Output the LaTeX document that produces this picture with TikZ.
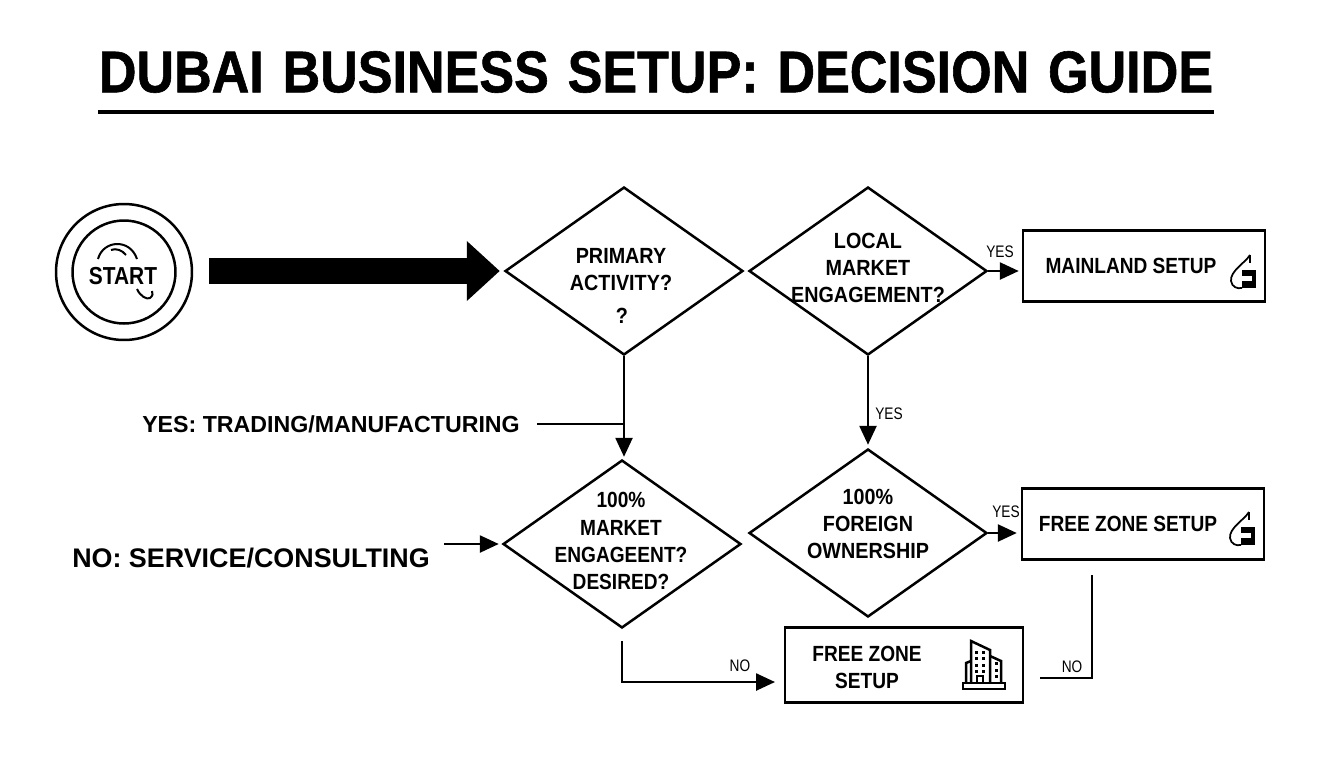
\documentclass[tikz,border=0pt]{standalone}
\usepackage{fontspec}
\setmainfont{Liberation Sans}
\newfontfamily\titlefont[WordSpace=1.3,BoldFeatures={FakeStretch=0.885,FakeBold=1}]{Liberation Sans}
\usetikzlibrary{arrows.meta,shapes.geometric}
\tikzset{
  every node/.style={font=\bfseries},
  decision/.style={shape=diamond, draw, line width=0.05cm, inner sep=0pt, minimum width=4.76cm, minimum height=3.36cm},
  outcome/.style={shape=rectangle, draw, line width=0.05cm, inner sep=0pt, minimum width=4.84cm, minimum height=1.42cm},
  boxtext/.style={font=\fontsize{12.5}{15.4}\selectfont\bfseries\addfontfeature{FakeStretch=0.87}, align=center, inner sep=0pt},
  qtext/.style={font=\fontsize{12.5}{15.4}\selectfont\bfseries\addfontfeature{FakeStretch=0.9}, align=center, inner sep=0pt},
  small/.style={font=\fontsize{9.5}{11}\selectfont\addfontfeature{FakeStretch=0.82}, inner sep=0pt},
  wire/.style={line width=0.05cm},
  flow/.style={wire, -{Triangle[length=0.38cm,width=0.34cm]}},
  pics/droplet/.style={code={
    \draw[line width=0.035cm] (9,-30) .. controls (4,-22) and (-11,-14) .. (-10,-4) .. controls (-9,2) and (-4,4) .. (1,3);
    \draw[line width=0.035cm] (9,-30) -- (9,-22);
    \fill (1,-15) rectangle (15,3);
    \fill[white] (1,-9) rectangle (11,-4);
  }},
  pics/tower/.style={code={
    \draw[line width=0.05cm] (-21,0) rectangle (21,6);
    \draw[line width=0.05cm] (-13,0) -- (-13,-42) -- (6,-33) -- (6,0);
    \draw[line width=0.05cm] (6,-27) -- (17,-22) -- (17,0);
    \draw[line width=0.05cm] (-13,-22) -- (-18,-20) -- (-18,0);
    \draw[line width=0.05cm] (-7,0) -- (-7,-7) -- (-1,-7) -- (-1,0);
    \foreach \wy in {-31,-25,-18,-12} \foreach \wx in {-8,-1} \fill (\wx-1.5,\wy-1.5) rectangle +(3,3);
    \foreach \wy in {-20,-13,-7} \fill (10.5,\wy-1.5) rectangle +(3,3);
  }},
}
\begin{document}
\begin{tikzpicture}[x=0.02cm, y=-0.02cm]
  \useasboundingbox (0,0) rectangle (1344,768);
  \node[font=\titlefont\fontsize{33.5}{38}\selectfont\bfseries, inner sep=0pt] (title) at (656,72) {DUBAI BUSINESS SETUP: DECISION GUIDE};
  \coordinate (ruleleft) at (98,112);
  \coordinate (ruleright) at (1214,112);
  \draw[line width=0.08cm] (ruleleft) -- (ruleright);

  \node[circle, draw, line width=0.05cm, minimum size=2.72cm, inner sep=0pt] (start) at (124,272) {};
  \node[circle, draw, line width=0.05cm, minimum size=2.06cm, inner sep=0pt] (startin) at (124,272) {};
  \node[font=\fontsize{14}{16}\selectfont\bfseries\addfontfeature{FakeStretch=0.85}, inner sep=0pt] (starttext) at (123,276) {START};
  \draw[line width=0.04cm] (98,259) .. controls (103,240) and (130,238) .. (137,259);
  \draw[line width=0.04cm] (111,250) .. controls (116,248) and (122,250) .. (126,255);
  \draw[line width=0.04cm] (137,289) .. controls (140,296) and (147,300) .. (150,298) .. controls (153,296) and (153,293) .. (152,291);

  \node[decision] (primary) at (624,271) {};
  \node[decision] (local) at (868,271) {};
  \node[decision] (market) at (622,544) {};
  \node[decision] (foreign) at (868,533) {};
  \node[outcome] (mainland) at (1144,266) {};
  \node[outcome] (freezone) at (1143,524) {};
  \node[outcome, minimum width=4.76cm, minimum height=1.5cm] (zonebox) at (904,665) {};

  \node[qtext] (primarytext) at (621,270) {PRIMARY\\ACTIVITY?};
  \node[qtext] (primarymark) at (622,316) {?};
  \node[qtext] (localtext) at (868,268) {LOCAL\\MARKET\\ENGAGEMENT?};
  \node[boxtext] (markettext) at (621,541) {100\%\\MARKET\\ENGAGEENT?\\DESIRED?};
  \node[qtext] (foreigntext) at (868,524) {100\%\\FOREIGN\\OWNERSHIP};
  \node[boxtext] (mainlandtext) at (1131,266) {MAINLAND SETUP};
  \node[boxtext] (freezonetext) at (1128,524) {FREE ZONE SETUP};
  \node[boxtext] (zonetext) at (867,667) {FREE ZONE\\SETUP};

  \pic at (1241,285) {droplet};
  \pic at (1240,542) {droplet};
  \pic at (984,683) {tower};

  \node[font=\fontsize{13.2}{15}\selectfont\bfseries, inner sep=0pt] (yeslabel) at (331,424) {YES: TRADING/MANUFACTURING};
  \node[font=\fontsize{15.3}{17}\selectfont\bfseries, inner sep=0pt] (nolabel) at (251,558) {NO: SERVICE/CONSULTING};
  \node[small] (yesa) at (1000,252) {YES};
  \node[small] (yesb) at (889,414) {YES};
  \node[small] (yesc) at (1006,512) {YES};
  \node[small] (noa) at (740,666) {NO};
  \node[small] (nob) at (1072,667) {NO};

  \coordinate (yesfrom) at (537,424);
  \coordinate (nofrom) at (444,544);
  \coordinate (zonein) at (775,682);
  \coordinate (dropout) at (1092,575);
  \coordinate (dropend) at (1040,678);

  \draw[line width=0.52cm, -{Triangle[length=0.66cm,width=1.16cm]}, shorten <=0.32cm, shorten >=0.08cm] (start.east |- primary.west) -- (primary.west);
  \draw[flow, shorten >=0.04cm] (primary.south) -- (market.north -| primary.south);
  \draw[wire] (yesfrom) -- (yesfrom -| primary.south);
  \draw[flow, shorten >=0.06cm] (nofrom) -- (market.west);
  \draw[flow, shorten >=0.06cm] (local.east) -- (mainland.west |- local.east);
  \draw[flow, shorten >=0.06cm] (local.south) -- (foreign.north);
  \draw[flow, shorten >=0.08cm] (foreign.east) -- (freezone.west |- foreign.east);
  \draw[flow, shorten <=0.24cm] (market.south) |- (zonein);
  \draw[wire] (dropout) |- (dropend);
\end{tikzpicture}
\end{document}
